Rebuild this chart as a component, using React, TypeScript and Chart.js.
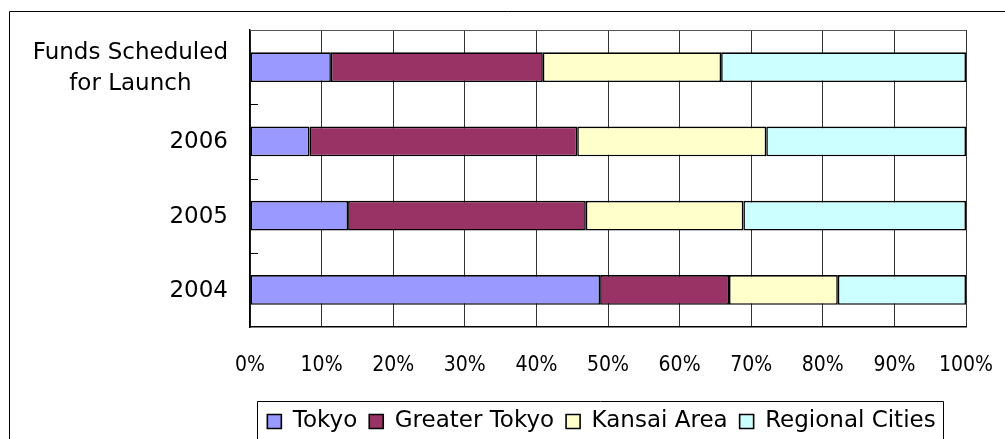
import { useEffect, useRef } from "react";
import { Chart, registerables } from "chart.js";

Chart.register(...registerables);

const categories: (string | string[])[] = [["Funds Scheduled", "for Launch"], "2006", "2005", "2004"];
const seriesNames = ["Tokyo", "Greater Tokyo", "Kansai Area", "Regional Cities"];
const tokyo = [11.3, 8.3, 13.7, 48.9];
const greaterTokyo = [29.6, 37.4, 33.2, 18.0];
const kansaiArea = [24.9, 26.4, 22.0, 15.2];
const regionalCities = [34.2, 27.9, 31.1, 17.9];
const seriesColors = ["#9999FF", "#993366", "#FFFFCC", "#CCFFFF"];
const xMin = 0;
const xMax = 100;
const xStep = 10;

const FONT = "'DejaVu Sans', sans-serif";
const TICK_FONT = "'Liberation Sans Narrow', 'DejaVu Sans Condensed', sans-serif";

const decor = {
  id: "decor",
  afterDraw(chart: any) {
    const { ctx, chartArea: ca } = chart;
    const ys = chart.scales.y;
    ctx.save();
    // outer frame
    ctx.strokeStyle = "#000";
    ctx.lineWidth = 1;
    ctx.beginPath();
    ctx.moveTo(9.5, chart.height + 5);
    ctx.lineTo(9.5, 11.5);
    ctx.lineTo(chart.width + 5, 11.5);
    ctx.stroke();
    // plot top border
    ctx.strokeStyle = "#555";
    ctx.beginPath();
    ctx.moveTo(ca.left, Math.round(ca.top) + 0.5);
    ctx.lineTo(ca.right, Math.round(ca.top) + 0.5);
    ctx.stroke();
    // inward band tick marks
    ctx.strokeStyle = "#000";
    ctx.lineWidth = 1;
    const n = chart.data.labels.length;
    for (let i = 0; i < n - 1; i++) {
      const yb = Math.round((ys.getPixelForValue(i) + ys.getPixelForValue(i + 1)) / 2) + 0.5;
      ctx.beginPath();
      ctx.moveTo(ca.left, yb);
      ctx.lineTo(ca.left + 8, yb);
      ctx.stroke();
    }
    // category labels
    ctx.fillStyle = "#000";
    ctx.font = `23px ${FONT}`;
    ctx.textAlign = "center";
    ctx.textBaseline = "middle";
    chart.data.labels.forEach((lab: any, i: number) => {
      const lines: string[] = Array.isArray(lab) ? lab : [String(lab)];
      const w = Math.max(...lines.map((l) => ctx.measureText(l).width));
      const cx = ca.left - 22 - w / 2;
      const cy = ys.getPixelForValue(i);
      lines.forEach((ln, j) => {
        ctx.fillText(ln, cx, cy + 1 + (j - (lines.length - 1) / 2) * 31);
      });
    });
    // legend frame
    const boxes = chart.legend?.legendHitBoxes || [];
    if (boxes.length) {
      const left = Math.min(...boxes.map((b: any) => b.left)) - 10;
      const right = Math.max(...boxes.map((b: any) => b.left + b.width)) + 7;
      const center = boxes[0].top + boxes[0].height / 2;
      const top = Math.round(center - 21) + 0.5;
      ctx.strokeStyle = "#000";
      ctx.beginPath();
      ctx.moveTo(Math.round(left) + 0.5, chart.height + 5);
      ctx.lineTo(Math.round(left) + 0.5, top);
      ctx.lineTo(Math.round(right) + 0.5, top);
      ctx.lineTo(Math.round(right) + 0.5, chart.height + 5);
      ctx.stroke();
    }
    ctx.restore();
  },
};

export default function App() {
  const ref = useRef<HTMLCanvasElement | null>(null);
  useEffect(() => {
    if (!ref.current) return;
    const values = [tokyo, greaterTokyo, kansaiArea, regionalCities];
    const chart = new Chart(ref.current, {
      type: "bar",
      data: {
        labels: categories as any,
        datasets: seriesNames.map((name, k) => ({
          label: name,
          data: values[k],
          backgroundColor: seriesColors[k],
          borderColor: "#000",
          borderWidth: 1.6,
          borderSkipped: false,
          barPercentage: 0.4,
          categoryPercentage: 1,
        })),
      },
      options: {
        indexAxis: "y",
        animation: false,
        responsive: false,
        devicePixelRatio: 1,
        layout: { padding: { left: 200, right: 2, top: 30, bottom: 17 } },
        plugins: {
          legend: {
            position: "bottom",
            labels: {
              boxWidth: 14,
              boxHeight: 14,
              padding: 12,
              color: "#000",
              font: { family: FONT, size: 23 },
            },
          },
          tooltip: { enabled: false },
        },
        scales: {
          x: {
            stacked: true,
            min: xMin,
            max: xMax,
            ticks: {
              stepSize: xStep,
              callback: (v: any) => `${v}%`,
              color: "#000",
              font: { family: TICK_FONT, size: 21 },
              padding: 26,
              maxRotation: 0,
              autoSkip: false,
            },
            grid: { color: "#333", lineWidth: 1, drawTicks: false, tickLength: 0 },
            border: { display: true, color: "#000", width: 1.5 },
            afterFit: (s: any) => {
              s.height = 71;
              s.paddingRight = 39;
              s.paddingLeft = 0;
            },
          },
          y: {
            stacked: true,
            ticks: { display: false },
            grid: { display: false },
            border: { display: true, color: "#000", width: 1.5 },
            afterFit: (s: any) => {
              s.width = 50;
            },
          },
        },
      },
      plugins: [decor],
    });
    return () => chart.destroy();
  }, []);
  return (
    <div style={{ position: "fixed", left: 0, top: 0, width: 1005, height: 460, background: "#fff" }}>
      <canvas ref={ref} width={1005} height={460} style={{ display: "block" }} />
    </div>
  );
}
